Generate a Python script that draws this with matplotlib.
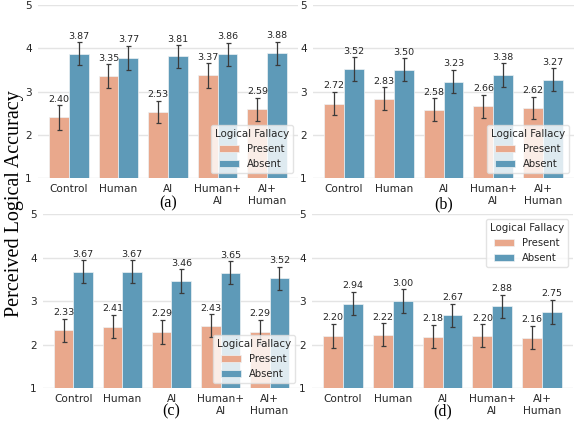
import matplotlib
matplotlib.use("Agg")
import matplotlib.pyplot as plt
import numpy as np

categories = ["Control", "Human", "AI", "Human+\nAI", "AI+\nHuman"]
hue_labels = ["Present", "Absent"]
legend_title = "Logical Fallacy"
panel_labels = ["(a)", "(b)", "(c)", "(d)"]
ylabel = "Perceived Logical Accuracy"

present_a = [2.40, 3.35, 2.53, 3.37, 2.59]
absent_a = [3.87, 3.77, 3.81, 3.86, 3.88]
present_err_a = [0.28, 0.28, 0.25, 0.28, 0.265]
absent_err_a = [0.265, 0.28, 0.26, 0.26, 0.265]

present_b = [2.72, 2.83, 2.58, 2.66, 2.62]
absent_b = [3.52, 3.50, 3.23, 3.38, 3.27]
present_err_b = [0.27, 0.265, 0.265, 0.265, 0.26]
absent_err_b = [0.27, 0.265, 0.265, 0.27, 0.265]

present_c = [2.33, 2.41, 2.29, 2.43, 2.29]
absent_c = [3.67, 3.67, 3.46, 3.65, 3.52]
present_err_c = [0.265, 0.27, 0.27, 0.265, 0.27]
absent_err_c = [0.265, 0.265, 0.27, 0.265, 0.27]

present_d = [2.20, 2.22, 2.18, 2.20, 2.16]
absent_d = [2.94, 3.00, 2.67, 2.88, 2.75]
present_err_d = [0.27, 0.265, 0.265, 0.265, 0.27]
absent_err_d = [0.27, 0.27, 0.27, 0.265, 0.27]

yticks = [1, 2, 3, 4, 5]

colors = ["#E9A88C", "#5E9AB8"]
text_color = "#262626"
err_color = "#3a3a3a"

W, H = 574, 423
fig = plt.figure(figsize=(W / 100, H / 100), dpi=100)

def px_rect(x0, x1, ytop, ybot):
    return [x0 / W, (H - ybot) / H, (x1 - x0) / W, (ybot - ytop) / H]

rects = [
    px_rect(38, 298, 5, 178),
    px_rect(313, 574, 5, 178),
    px_rect(43, 300, 214, 388),
    px_rect(312, 573, 214, 388),
]
legend_locs = ["lower right", "lower right", "lower right", "upper right"]
panels = [
    (present_a, absent_a, present_err_a, absent_err_a),
    (present_b, absent_b, present_err_b, absent_err_b),
    (present_c, absent_c, present_err_c, absent_err_c),
    (present_d, absent_d, present_err_d, absent_err_d),
]
label_y = [203, 204, 411, 411]

x = np.arange(len(categories))
w = 0.4
for k, (rect, (pres, absn, perr, aerr)) in enumerate(zip(rects, panels)):
    ax = fig.add_axes(rect)
    handles = []
    for j, (vals, errs) in enumerate([(pres, perr), (absn, aerr)]):
        xs = x + (j - 0.5) * w
        b = ax.bar(xs, np.array(vals) - 1, bottom=1, width=w, color=colors[j],
                   edgecolor="#eef2f4", linewidth=0.5, label=hue_labels[j], zorder=2)
        handles.append(b)
        ax.errorbar(xs, vals, yerr=errs, fmt="none", ecolor=err_color,
                    elinewidth=0.9, capsize=1.8, capthick=0.9, zorder=3)
        for xi, v, e in zip(xs, vals, errs):
            ax.annotate(f"{v:.2f}", (xi, v + e), xytext=(0, 1.2),
                        textcoords="offset points", ha="center", va="bottom",
                        fontsize=6.8, color=text_color, zorder=4)
    ax.set_ylim(1, 5)
    ax.set_xlim(-0.62, 4.62)
    ax.set_yticks(yticks)
    ax.set_yticklabels([str(t) for t in yticks])
    ax.set_xticks(x)
    ax.set_xticklabels(categories)
    ax.tick_params(axis="both", length=0, labelsize=7.6, colors=text_color, pad=4.5)
    ax.grid(axis="y", color="#e4e4e4", linewidth=1.0, zorder=0)
    ax.set_axisbelow(True)
    for s in ax.spines.values():
        s.set_visible(False)
    leg = ax.legend(handles=handles, labels=hue_labels, title=legend_title,
                    loc=legend_locs[k], fontsize=7.2, title_fontsize=7.4,
                    framealpha=0.8, edgecolor="#dddddd", borderaxespad=0.5)
    for t in leg.get_texts():
        t.set_color(text_color)
    leg.get_title().set_color(text_color)
    pos = ax.get_position()
    fig.text(pos.x0 + pos.width / 2, (H - label_y[k]) / H, panel_labels[k],
             ha="center", va="center", fontsize=11.5, family="Liberation Serif")

fig.text(15 / W, (H - 204) / H, ylabel, rotation=90, ha="center", va="center",
         fontsize=14.5, family="Liberation Serif")

fig.savefig("out.png", dpi=100)
